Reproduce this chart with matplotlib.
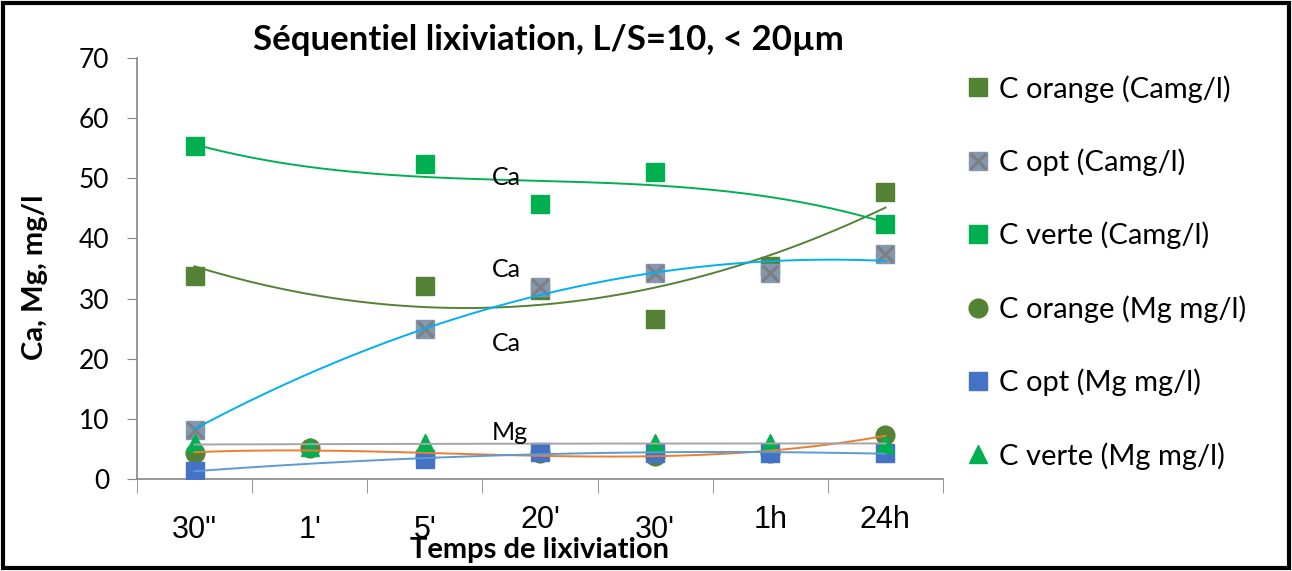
import numpy as np
import matplotlib.pyplot as plt
from matplotlib.patches import Rectangle
from matplotlib.lines import Line2D
from matplotlib.ticker import FixedLocator

plt.rcParams['font.family'] = ['Lato', 'DejaVu Sans']

# categories and measured values (nan = no point)
times = ['30"', "1'", "5'", "20'", "30'", "1h", "24h"]
ca_orange = [33.8, np.nan, 32.1, 31.5, 26.6, 35.4, 47.7]
ca_opt = [8.1, np.nan, 24.9, 31.9, 34.2, 34.2, 37.4]
ca_verte = [55.4, np.nan, 52.4, 45.7, 51.0, np.nan, 42.4]
mg_orange = [4.4, 5.1, 3.6, 4.4, 3.9, 4.4, 7.3]
mg_opt = [1.3, np.nan, 3.3, 4.5, 4.3, 4.3, 4.3]
mg_verte = [6.0, 5.3, 6.0, np.nan, 6.0, 6.0, 5.8]

W, H = 1292, 571
fig = plt.figure(figsize=(W / 100, H / 100), dpi=100)
ax = fig.add_axes([137 / W, (H - 479) / H, (943 - 137) / W, (479 - 58) / H])

x = np.arange(1, len(times) + 1)


def trend(vals, order, color):
    v = np.array(vals, dtype=float)
    ok = ~np.isnan(v)
    c = np.polyfit(x[ok], v[ok], order)
    xs = np.linspace(x[ok].min(), x[ok].max(), 200)
    ax.plot(xs, np.polyval(c, xs), color=color, lw=1.4, zorder=5)


ms = 13.5
ax.plot(x, ca_orange, 's', color='#548235', ms=ms, zorder=3)
ax.plot(x, ca_opt, 's', color='#8497B0', ms=ms, zorder=3)
ax.plot(x, ca_opt, 'x', color='#7F7F7F', ms=ms * 0.85, mew=2.2, zorder=3)
ax.plot(x, ca_verte, 's', color='#00B050', ms=ms, zorder=3)
ax.plot(x, mg_orange, 'o', color='#548235', ms=ms, zorder=3)
ax.plot(x, mg_opt, 's', color='#4472C4', ms=ms, zorder=3)
ax.plot(x, mg_verte, '^', color='#00B050', ms=ms, zorder=3)

trend(ca_orange, 2, '#548235')
trend(ca_opt, 2, '#00B0F0')
trend(ca_verte, 3, '#00B050')
trend(mg_orange, 3, '#ED7D31')
trend(mg_opt, 2, '#5B9BD5')
trend(mg_verte, 2, '#A5A5A5')

# labels cut off at the bottom, as in the original chart
for ybase, ycut, s in [(48.9, 49.55, 'Ca'), (33.6, 34.25, 'Ca'),
                       (21.3, 21.95, 'Ca'), (6.5, 7.15, 'Mg')]:
    t = ax.text(3.58, ybase, s, fontsize=18, va='baseline', ha='left', zorder=6)
    clip = Rectangle((3.4, ycut), 1.2, 6, transform=ax.transData)
    t.set_clip_path(clip)

ax.set_xlim(0.5, len(times) + 0.5)
ax.set_ylim(0, 70)
ax.set_yticks(range(0, 71, 10))
ax.tick_params(axis='y', labelsize=19, length=7, color='#868686', pad=13)
ax.set_xticks(x)
ax.set_xticklabels(times, fontsize=22, family=['Liberation Sans Narrow', 'Liberation Sans'])
ax.xaxis.set_minor_locator(FixedLocator(np.arange(0.5, len(times) + 1, 1)))
ax.tick_params(axis='x', which='major', length=0, pad=26)
ax.tick_params(axis='x', which='minor', length=10, color='#868686')
for i, lab in enumerate(ax.get_xticklabels()):
    if i in (3, 5, 6):
        lab.set_y(10 / 421)
for s in ('top', 'right'):
    ax.spines[s].set_visible(False)
for s in ('left', 'bottom'):
    ax.spines[s].set_color('#868686')
    ax.spines[s].set_linewidth(1.2)

fig.text(548 / W, 1 - 40 / H, 'Séquentiel lixiviation, L/S=10, < 20µm',
         fontsize=25, fontweight='bold', ha='center', va='center')
fig.text(35 / W, 1 - 277 / H, 'Ca, Mg, mg/l', fontsize=21, fontweight='bold',
         rotation=90, ha='center', va='center')
fig.text(540 / W, 1 - 550 / H, 'Temps de lixiviation', fontsize=21, fontweight='bold',
         ha='center', va='center', family=['Liberation Sans Narrow', 'Lato'])

handles = [
    Line2D([], [], ls='none', marker='s', color='#548235', ms=ms),
    (Line2D([], [], ls='none', marker='s', color='#8497B0', ms=ms),
     Line2D([], [], ls='none', marker='x', color='#7F7F7F', ms=ms * 0.85, mew=2.2)),
    Line2D([], [], ls='none', marker='s', color='#00B050', ms=ms),
    Line2D([], [], ls='none', marker='o', color='#548235', ms=ms),
    Line2D([], [], ls='none', marker='s', color='#4472C4', ms=ms),
    Line2D([], [], ls='none', marker='^', color='#00B050', ms=ms),
]
labels = ['C orange (Camg/l)', 'C opt (Camg/l)', 'C verte (Camg/l)',
          'C orange (Mg mg/l)', 'C opt (Mg mg/l)', 'C verte (Mg mg/l)']
fig.legend(handles, labels, loc='upper left', bbox_to_anchor=(968 / W, 1 - 75 / H),
           frameon=False, fontsize=21, handlelength=0.7, handletextpad=0.35,
           labelspacing=1.57, borderpad=0, borderaxespad=0)

fig.add_artist(Rectangle((3 / W, 3 / H), (W - 6) / W, (H - 6) / H, transform=fig.transFigure,
                         fill=False, ec='black', lw=3))

fig.savefig('out.png', dpi=100)
